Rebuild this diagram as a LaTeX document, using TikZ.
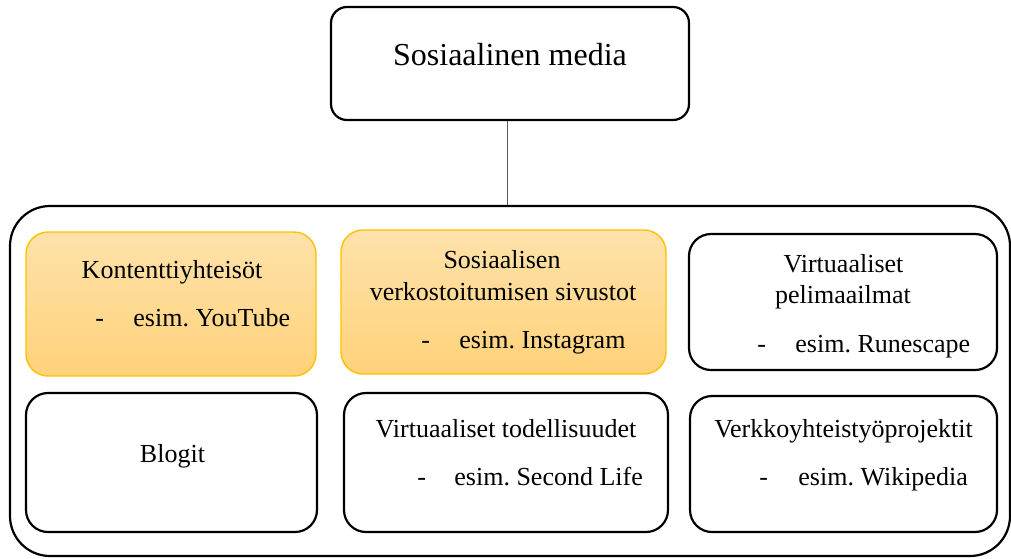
\documentclass[tikz,border=0pt]{standalone}
\usepackage{fontspec}
\setmainfont{Liberation Serif}
\definecolor{kelta}{RGB}{255,192,0}
\definecolor{oranssiyla}{RGB}{254,226,170}
\definecolor{oranssiala}{RGB}{255,210,122}
\tikzset{
  laatikko/.style={draw,line width=1.1pt,rounded corners=11pt,inner sep=0pt},
  oranssi/.style={draw=kelta,line width=0.7pt,rounded corners=11pt,top color=oranssiyla,bottom color=oranssiala,inner sep=0pt},
  teksti/.style={anchor=base,inner sep=0pt,font=\fontsize{13}{15}\selectfont\frenchspacing},
  luettelo/.style={anchor=base west,inner sep=0pt,font=\fontsize{13}{15}\selectfont\frenchspacing},
}
\begin{document}
\begin{tikzpicture}[x=0.5pt,y=-0.5pt]
\useasboundingbox (0,0) rectangle (1011,558);
% ylin laatikko ja kehys
\node[laatikko,rounded corners=8pt,minimum width=179pt,minimum height=56.5pt] (some) at (510,63.5) {};
\node[teksti,font=\fontsize{16}{19}\selectfont] (someotsikko) at (510,65) {Sosiaalinen media};
\node[laatikko,rounded corners=20pt,minimum width=500pt,minimum height=175pt] (kehys) at (510,381) {};
\draw[gray!70!black,line width=0.5pt] ([xshift=-1.5pt]some.south) -- ([xshift=-1.5pt]some.south |- kehys.north);
% ylarivi
\node[oranssi,minimum width=145pt,minimum height=72pt] (kontentti) at (171,304) {};
\node[teksti] (kontenttiotsikko) at (172,278) {Kontenttiyhteisöt};
\node[luettelo] (kontenttiviiva) at (95,326) {-};
\node[luettelo] (kontenttiesim) at (133,326) {esim. YouTube};
\node[oranssi,minimum width=162.5pt,minimum height=72pt] (verkosto) at (503.5,302) {};
\node[teksti] (verkostootsikko) at (502,268) {Sosiaalisen};
\node[teksti] (verkostootsikko2) at (503,300) {verkostoitumisen sivustot};
\node[luettelo] (verkostoviiva) at (421,348) {-};
\node[luettelo] (verkostoesim) at (459,348) {esim. Instagram};
\node[laatikko,minimum width=154pt,minimum height=68pt] (peli) at (843,302) {};
\node[teksti] (peliotsikko) at (843.5,272) {Virtuaaliset};
\node[teksti] (peliotsikko2) at (843,303) {pelimaailmat};
\node[luettelo] (peliviiva) at (757,352) {-};
\node[luettelo] (peliesim) at (795,352) {esim. Runescape};
% alarivi
\node[laatikko,minimum width=145.5pt,minimum height=69.5pt] (blogit) at (171.5,462.5) {};
\node[teksti] (blogitotsikko) at (172.5,462) {Blogit};
\node[laatikko,minimum width=162pt,minimum height=69.5pt] (todellisuus) at (506,462.5) {};
\node[teksti] (todellisuusotsikko) at (506,437) {Virtuaaliset todellisuudet};
\node[luettelo] (todellisuusviiva) at (417,485) {-};
\node[luettelo] (todellisuusesim) at (454,485) {esim. Second Life};
\node[laatikko,minimum width=153.5pt,minimum height=68pt] (projekti) at (843.5,464) {};
\node[teksti] (projektiotsikko) at (843.5,437) {Verkkoyhteistyöprojektit};
\node[luettelo] (projektiviiva) at (759,485) {-};
\node[luettelo] (projektiesim) at (798,485) {esim. Wikipedia};
\end{tikzpicture}
\end{document}
